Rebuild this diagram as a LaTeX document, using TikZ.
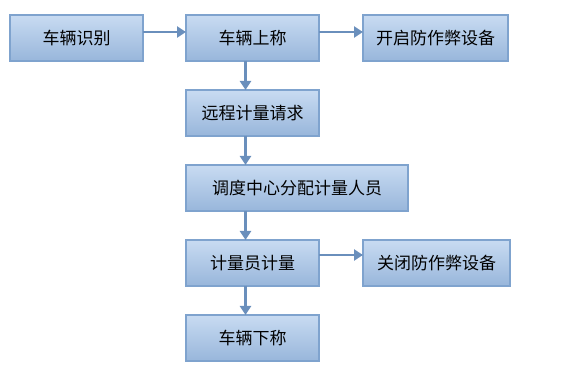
\documentclass[tikz,border=0pt]{standalone}
\usepackage{fontspec}
\newfontfamily\cjk{Noto Sans CJK SC}
\usetikzlibrary{arrows.meta,positioning}
\definecolor{boxtop}{HTML}{C8DBF2}
\definecolor{boxbot}{HTML}{98B6DB}
\definecolor{boxline}{HTML}{7FA3CE}
\definecolor{arrowcol}{HTML}{6A8FBC}

\begin{document}
\begin{tikzpicture}[
  x=1pt, y=1pt,
  node distance=29pt and 43pt,
  box/.style={draw=boxline, line width=2.2pt, top color=boxtop, bottom color=boxbot,
    font=\cjk\fontsize{17}{20}\selectfont, minimum height=46pt, minimum width=133pt,
    inner sep=0pt, outer sep=0pt},
  edge/.style={-{Triangle[length=9pt,width=11pt]}, line width=2.6pt, draw=arrowcol}
]
  \useasboundingbox (0,0) rectangle (566,-377);
  \node[box, anchor=north west] (ident) at (10,-15) {车辆识别};
  \node[box, right=of ident] (onscale) {车辆上称};
  \node[box, right=44pt of onscale, minimum width=145pt] (open) {开启防作弊设备};
  \node[box, below=of onscale] (request) {远程计量请求};
  \node[box, below=of request.south west, anchor=north west, minimum width=222pt] (dispatch) {调度中心分配计量人员};
  \node[box, below=of dispatch.south west, anchor=north west] (weigh) {计量员计量};
  \node[box, right=44pt of weigh, minimum width=147pt] (close) {关闭防作弊设备};
  \node[box, below=of weigh] (offscale) {车辆下称};
  % arrows sit a little off the box centres
  \draw[edge] ([yshift=6pt]ident.east) -- ([yshift=6pt]onscale.west);
  \draw[edge] ([yshift=6pt]onscale.east) -- ([yshift=6pt]open.west);
  \draw[edge] ([xshift=-7pt]onscale.south) -- ([xshift=-7pt]request.north);
  \draw[edge] ([xshift=-7pt]request.south) -- ([xshift=-7pt]request.south |- dispatch.north);
  \draw[edge] ([xshift=-7pt]weigh.north |- dispatch.south) -- ([xshift=-7pt]weigh.north);
  \draw[edge] ([yshift=8pt]weigh.east) -- ([yshift=8pt]close.west);
  \draw[edge] ([xshift=-7pt]weigh.south) -- ([xshift=-7pt]offscale.north);
\end{tikzpicture}
\end{document}
